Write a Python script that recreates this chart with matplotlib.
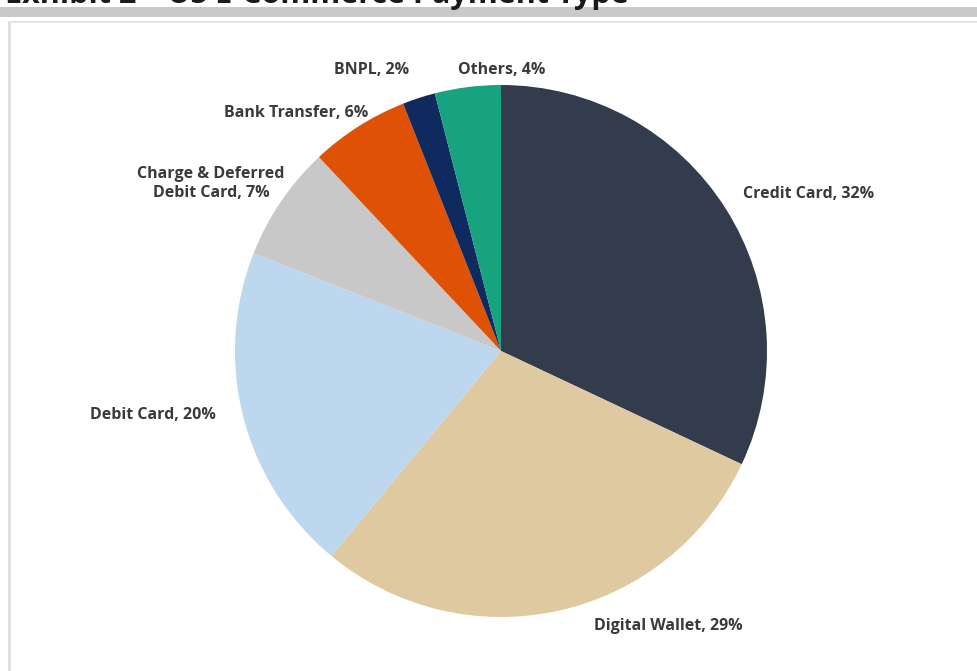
import numpy as np
import matplotlib.pyplot as plt
from matplotlib.patches import Rectangle
from matplotlib.lines import Line2D

categories = ['Credit Card', 'Digital Wallet', 'Debit Card',
              'Charge & Deferred\nDebit Card', 'Bank Transfer', 'BNPL', 'Others']
shares = [32, 29, 20, 7, 6, 2, 4]
colors = ['#323c4c', '#dfc9a0', '#bdd7ee', '#c8c8c8', '#df5206', '#0e2a5e', '#17a37f']

# label anchor positions (in pie radius units)
label_pos = [(1.155, 0.59), (0.63, -1.035), (-1.31, -0.24), (-1.09, 0.63),
             (-0.77, 0.895), (-0.485, 1.056), (0.004, 1.056)]

W, H = 978, 671
fig = plt.figure(figsize=(W / 100, H / 100), dpi=100)
fig.patch.set_facecolor('white')

# header: title (cut off at the top, as in the source), grey bar, frame
fig.text(5 / W, 1 - 3 / H, 'Exhibit 2 \u2013 US E-Commerce Payment Type', fontsize=22,
         fontweight='bold', color='#1a1a1a', family='Open Sans', va='baseline', ha='left')
fig.patches.append(Rectangle((0, 1 - 17 / H), 1, 10 / H, transform=fig.transFigure,
                             facecolor='#c9c9c9', edgecolor='none'))
fig.lines.append(Line2D([9 / W, 9 / W], [0, 1 - 22 / H], transform=fig.transFigure,
                        color='#dcdcdc', lw=2))
fig.lines.append(Line2D([9 / W, 1], [1 - 22 / H, 1 - 22 / H], transform=fig.transFigure,
                        color='#e4e4e4', lw=1.5))

cx, cy, r = 501, 351, 266
ax = fig.add_axes([(cx - r) / W, (H - cy - r) / H, 2 * r / W, 2 * r / H])
wedges, _ = ax.pie(shares, colors=colors, startangle=90, counterclock=False,
                   radius=1, wedgeprops=dict(linewidth=0))
ax.set_xlim(-1, 1)
ax.set_ylim(-1, 1)
ax.set_aspect('equal')
ax.axis('off')

for name, val, (x, y) in zip(categories, shares, label_pos):
    ax.text(x, y, f'{name}, {val}%', ha='center', va='center', fontsize=11.5,
            fontweight='bold', family=['Liberation Sans Narrow', 'Open Sans'],
            color='#3a3a3a', linespacing=1.25, clip_on=False)

fig.savefig('out.png', dpi=100)
